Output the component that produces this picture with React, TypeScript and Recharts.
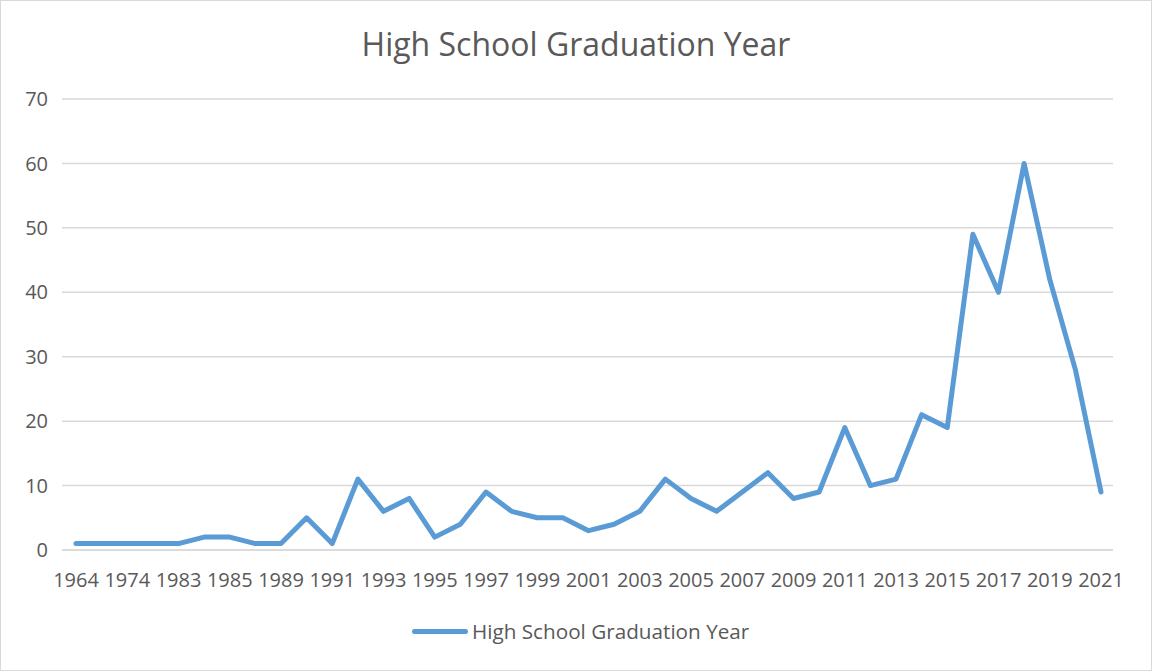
import React from 'react'
import { LineChart, Line, XAxis, YAxis, CartesianGrid } from 'recharts'

// graduation years (only every other one is labelled in the source)
const years = [
  '1964', '1970', '1974', '1980', '1983', '1984', '1985', '1987', '1989', '1990',
  '1991', '1992', '1993', '1994', '1995', '1996', '1997', '1998', '1999', '2000',
  '2001', '2002', '2003', '2004', '2005', '2006', '2007', '2008', '2009', '2010',
  '2011', '2012', '2013', '2014', '2015', '2016', '2017', '2018', '2019', '2020',
  '2021',
]

const counts = [
  1, 1, 1, 1, 1, 2, 2, 1, 1, 5,
  1, 11, 6, 8, 2, 4, 9, 6, 5, 5,
  3, 4, 6, 11, 8, 6, 9, 12, 8, 9,
  19, 10, 11, 21, 19, 49, 40, 60, 42, 28,
  9,
]

const yTicks = [0, 10, 20, 30, 40, 50, 60, 70]

const seriesName = 'High School Graduation Year'

const data = years.map((year, i) => ({ year, value: counts[i] }))

const FONT = '"Open Sans", sans-serif'
const TEXT = '#595959'
const BLUE = '#5b9bd5'

export default function App() {
  return (
    <div
      style={{
        position: 'absolute',
        left: 0,
        top: 0,
        width: 1152,
        height: 671,
        boxSizing: 'border-box',
        border: '1px solid #d9d9d9',
        background: '#fff',
        fontFamily: FONT,
      }}
    >
      <div
        style={{
          position: 'absolute',
          top: 21,
          width: '100%',
          textAlign: 'center',
          fontSize: 32,
          color: TEXT,
        }}
      >
        High School Graduation Year
      </div>

      <LineChart
        width={1150}
        height={669}
        data={data}
        margin={{ top: 98, right: 38, left: 0, bottom: 90 }}
      >
        <CartesianGrid vertical={false} stroke="#d9d9d9" strokeWidth={1.5} />
        <XAxis
          dataKey="year"
          interval={1}
          tickLine={false}
          axisLine={{ stroke: '#d9d9d9', strokeWidth: 1.5 }}
          tick={{ fill: TEXT, fontSize: 20, fontFamily: FONT }}
          tickMargin={17}
          height={30}
          padding={{ left: 14, right: 12 }}
        />
        <YAxis
          domain={[0, 70]}
          ticks={yTicks}
          width={61}
          tickLine={false}
          axisLine={false}
          tick={{ fill: TEXT, fontSize: 20, fontFamily: FONT }}
          tickMargin={8}
        />
        <Line
          type="linear"
          dataKey="value"
          name={seriesName}
          stroke={BLUE}
          strokeWidth={5}
          strokeLinejoin="round"
          strokeLinecap="round"
          dot={false}
          isAnimationActive={false}
        />
      </LineChart>

      <div
        style={{
          position: 'absolute',
          top: 616,
          left: 411,
          display: 'flex',
          alignItems: 'center',
          fontSize: 20.7,
          color: TEXT,
        }}
      >
        <span
          style={{
            display: 'inline-block',
            width: 56,
            height: 5,
            borderRadius: 3,
            background: BLUE,
            marginRight: 4,
          }}
        />
        {seriesName}
      </div>
    </div>
  )
}
